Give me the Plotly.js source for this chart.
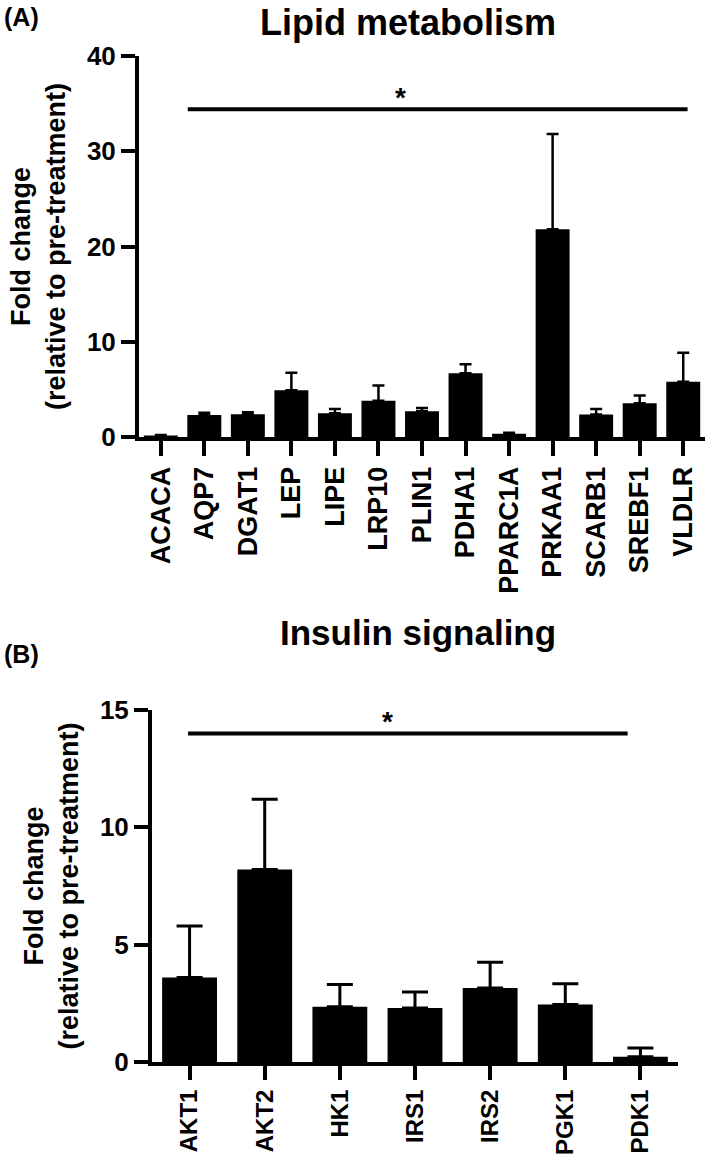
<!DOCTYPE html>
<html>
<head>
<meta charset="utf-8">
<script src="https://cdn.plot.ly/plotly-3.0.1.min.js"></script>
<style>html,body{margin:0;padding:0;background:#fff}#chart{width:709px;height:1157px}</style>
</head>
<body>
<div id="chart"></div>
<script>
// ---- Panel A: Lipid metabolism ----
const genesA = ['ACACA','AQP7','DGAT1','LEP','LIPE','LRP10','PLIN1','PDHA1','PPARC1A','PRKAA1','SCARB1','SREBF1','VLDLR'];
const foldA  = [0.15, 2.3, 2.4, 4.9, 2.5, 3.8, 2.7, 6.7, 0.35, 21.8, 2.35, 3.55, 5.8];
const errA   = [0.05, 0.25, 0.2, 1.85, 0.45, 1.6, 0.35, 0.95, 0.1, 10.0, 0.6, 0.8, 3.05];
const sigA   = {from: 0.62, to: 12.1, level: 34.4};

// ---- Panel B: Insulin signaling ----
const genesB = ['AKT1','AKT2','HK1','IRS1','IRS2','PGK1','PDK1'];
const foldB  = [3.6, 8.2, 2.35, 2.3, 3.15, 2.45, 0.22];
const errB   = [2.2, 3.0, 0.95, 0.68, 1.1, 0.88, 0.38];
const sigB   = {from: -0.02, to: 5.83, level: 14.0};

const yTitle = 'Fold change<br>(relative to pre-treatment)';

const F = 'Liberation Sans, Arial, Helvetica, sans-serif';
const bold = (size) => ({family: F, size: size, color: '#000', weight: 'bold'});

const traces = [
  {type:'bar', x: genesA, y: foldA, xaxis:'x', yaxis:'y', width: 0.78,
   marker:{color:'#000', line:{width:0}},
   error_y:{type:'data', symmetric:false, array: errA, arrayminus: errA.map(()=>0), color:'#000', thickness:2.5, width:6}},
  {type:'bar', x: genesB, y: foldB, xaxis:'x2', yaxis:'y2', width: 0.73,
   marker:{color:'#000', line:{width:0}},
   error_y:{type:'data', symmetric:false, array: errB, arrayminus: errB.map(()=>0), color:'#000', thickness:3, width:13}}
];

const W = 709, H = 1157;
const px = v => v / W, py = v => 1 - v / H;

const axCommon = {
  showline:true, linewidth:4, linecolor:'#000', ticks:'outside', tickwidth:4, tickcolor:'#000',
  showgrid:false, zeroline:false, fixedrange:true
};

const layout = {
  width: W, height: H,
  margin:{l:0, r:0, t:0, b:0},
  paper_bgcolor:'#fff', plot_bgcolor:'#fff',
  showlegend:false,
  xaxis: Object.assign({}, axCommon, {domain:[px(139), px(705)], anchor:'y', type:'category',
    range:[-0.5, 12.5], ticklen:15, tickangle:-90, tickfont: bold(27)}),
  yaxis: Object.assign({}, axCommon, {domain:[py(437), py(56)], anchor:'x', range:[0,40], dtick:10,
    ticklen:14, tickfont: bold(26),
    title:{text: yTitle, font: bold(27), standoff: 14}}),
  xaxis2: Object.assign({}, axCommon, {domain:[px(152), px(678)], anchor:'y2', type:'category',
    range:[-0.5, 6.5], ticklen:14, tickangle:-90, tickfont: bold(24)}),
  yaxis2: Object.assign({}, axCommon, {domain:[py(1062), py(710)], anchor:'x2', range:[0,15], dtick:5,
    ticklen:14, tickfont: bold(26),
    title:{text: yTitle, font: bold(27), standoff: 14}}),
  shapes: [
    {type:'line', xref:'x', yref:'y', x0: sigA.from, x1: sigA.to, y0: sigA.level, y1: sigA.level,
     line:{color:'#000', width:4}},
    {type:'line', xref:'x2', yref:'y2', x0: sigB.from, x1: sigB.to, y0: sigB.level, y1: sigB.level,
     line:{color:'#000', width:4}}
  ],
  annotations: [
    {text:'(A)', xref:'paper', yref:'paper', x: px(2), y: py(1), xanchor:'left', yanchor:'top',
     showarrow:false, font: bold(25)},
    {text:'Lipid metabolism', xref:'paper', yref:'paper', x: px(408), y: py(0), xanchor:'center', yanchor:'top',
     showarrow:false, font: bold(36)},
    {text:'*', xref:'x', yref:'y', x: 5.5, y: sigA.level, xanchor:'center', yanchor:'bottom', yshift:-6,
     showarrow:false, font: bold(28)},
    {text:'(B)', xref:'paper', yref:'paper', x: px(2), y: py(638), xanchor:'left', yanchor:'top',
     showarrow:false, font: bold(25)},
    {text:'Insulin signaling', xref:'paper', yref:'paper', x: px(418), y: py(611), xanchor:'center', yanchor:'top',
     showarrow:false, font: bold(35)},
    {text:'*', xref:'x2', yref:'y2', x: 2.63, y: sigB.level, xanchor:'center', yanchor:'bottom', yshift:-6,
     showarrow:false, font: bold(28)}
  ]
};

Plotly.newPlot('chart', traces, layout, {staticPlot:true, displayModeBar:false});
</script>
</body>
</html>
